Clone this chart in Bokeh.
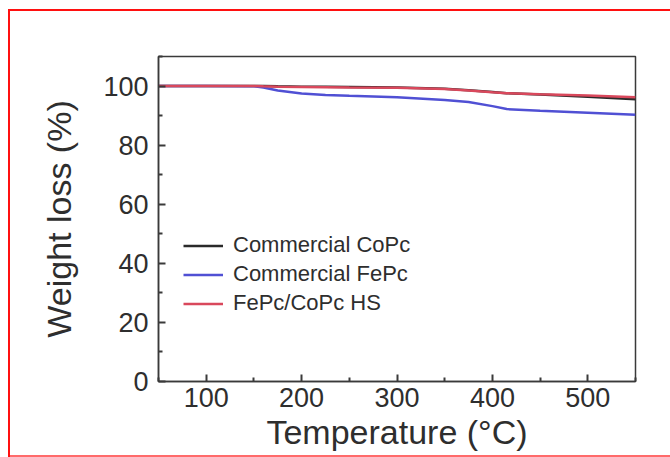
from bokeh.plotting import figure
from bokeh.models import Range1d, FixedTicker, Legend, LegendItem
from bokeh.embed import file_html
from bokeh.resources import INLINE

# ---- data ----
temperature = [50, 100, 150, 160, 175, 200, 225, 250, 300, 350, 375, 400, 415, 450, 500, 550]
copc_commercial = [100, 100, 100, 100, 99.9, 99.8, 99.8, 99.7, 99.5, 99.1, 98.6, 98.0, 97.6, 97.1, 96.4, 95.5]
fepc_commercial = [100, 100, 99.9, 99.5, 98.5, 97.5, 97.0, 96.7, 96.2, 95.3, 94.6, 93.2, 92.2, 91.6, 91.0, 90.3]
fepc_copc_hs = [100, 100, 100, 99.9, 99.8, 99.7, 99.6, 99.5, 99.4, 99.0, 98.5, 97.9, 97.6, 97.2, 96.8, 96.2]

series_names = ["Commercial CoPc", "Commercial FePc", "FePc/CoPc HS"]
series_colors = ["#2a2a2a", "#5050d4", "#d9485c"]

x_major = [100, 200, 300, 400, 500]
x_minor = [50, 150, 250, 350, 450, 550]
y_major = [0, 20, 40, 60, 80, 100]
y_minor = [10, 30, 50, 70, 90, 110]

FONT = "Liberation Sans"
TXT = "#2e2e2e"

p = figure(width=670, height=457, output_backend="svg", toolbar_location=None,
           x_range=Range1d(50, 550), y_range=Range1d(0, 110),
           min_border_left=158, min_border_right=35, min_border_top=56, min_border_bottom=76)
p.background_fill_color = "white"
p.border_fill_color = "white"
p.border_fill_alpha = 0
p.grid.visible = False
p.outline_line_color = "#3a3a3a"
p.outline_line_width = 1.5

# red outer border seen around the picture (painted behind the transparent canvas)
p.styles = {
    "background-color": "white",
    "box-shadow": ("inset 8px 0 0 0 white, inset 0 9px 0 0 white, "
                   "inset 10px 0 0 0 #ff1010, inset 0 11px 0 0 #ff1010, "
                   "inset 0 -2px 0 0 #ff6a6a"),
}

p.xaxis.ticker = FixedTicker(ticks=x_major, minor_ticks=x_minor)
p.yaxis.ticker = FixedTicker(ticks=y_major, minor_ticks=y_minor)

for ax in (p.xaxis[0], p.yaxis[0]):
    ax.major_tick_in = 7
    ax.major_tick_out = 0
    ax.minor_tick_in = 4
    ax.minor_tick_out = 0
    ax.axis_line_color = "#3a3a3a"
    ax.axis_line_width = 1.5
    ax.major_tick_line_color = "#3a3a3a"
    ax.minor_tick_line_color = "#3a3a3a"
    ax.major_tick_line_width = 2
    ax.minor_tick_line_width = 2
    ax.major_label_text_font = FONT
    ax.major_label_text_font_size = "27px"
    ax.major_label_text_color = TXT
    ax.axis_label_text_font = FONT
    ax.axis_label_text_font_size = "34px"
    ax.axis_label_text_font_style = "normal"
    ax.axis_label_text_color = TXT

p.xaxis.axis_label = "Temperature (°C)"
p.yaxis.axis_label = "Weight loss (%)"
p.xaxis.major_label_standoff = 6
p.xaxis.axis_label_standoff = 3
p.yaxis.major_label_standoff = 10
p.yaxis.axis_label_standoff = 22

renderers = []
for ys, c in zip([copc_commercial, fepc_commercial, fepc_copc_hs], series_colors):
    r = p.line(temperature, ys, line_color=c, line_width=2.5)
    renderers.append(r)

legend = Legend(items=[LegendItem(label=n, renderers=[r]) for n, r in zip(series_names, renderers)],
                location=(25, 65), padding=0, margin=0, spacing=3,
                glyph_width=40, glyph_height=25, label_height=25, label_standoff=10,
                border_line_alpha=0, background_fill_alpha=0,
                label_text_font=FONT, label_text_font_size="22px", label_text_color=TXT)
p.add_layout(legend, "center")

open("out.html", "w").write(file_html(p, INLINE))
